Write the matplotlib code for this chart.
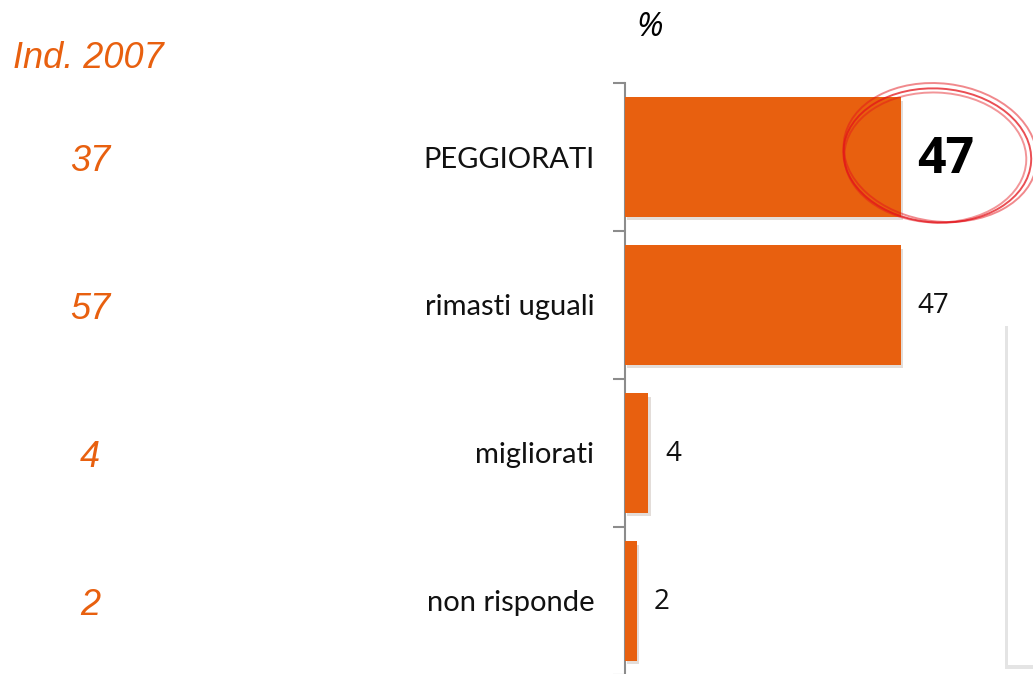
import matplotlib
matplotlib.use("Agg")
import matplotlib.pyplot as plt
import matplotlib.patheffects as pe
from matplotlib.patches import Ellipse, Rectangle
from matplotlib.transforms import blended_transform_factory, IdentityTransform

categories = ["PEGGIORATI", "rimasti uguali", "migliorati", "non risponde"]
values = [47, 47, 4, 2]
prev_label = "Ind. 2007"
prev_values = [37, 57, 4, 2]

orange = "#E8600F"
W, H = 1033, 674

fig = plt.figure(figsize=(W / 100, H / 100), dpi=100)
fig.patch.set_facecolor("white")

# axes placed by pixel: spine at x=625, top tick at y=83, bottom ~675
ax = fig.add_axes([625 / W, (H - 675) / H, (W - 625) / W, 592 / H])
ax.set_xlim(0, 69.5)
ax.set_ylim(3.5, -0.5)

ypos = list(range(len(categories)))
bars = ax.barh(ypos, values, height=0.81, color=orange, zorder=3)
for b in bars:
    b.set_path_effects([pe.SimplePatchShadow(offset=(1.5, -2.5), alpha=0.15), pe.Normal()])

for s in ["top", "right", "bottom"]:
    ax.spines[s].set_visible(False)
ax.spines["left"].set_color("#8c8c8c")
ax.spines["left"].set_linewidth(1.5)
ax.set_xticks([])
ax.set_yticks(ypos)
ax.set_yticklabels(categories, fontsize=21, fontfamily="Lato", color="#111111")
ax.tick_params(axis="y", which="major", length=0, pad=22)
ax.set_yticks([y - 0.5 for y in ypos] + [len(ypos) - 0.5], minor=True)
ax.tick_params(axis="y", which="minor", length=9, width=1.5, color="#8c8c8c")

# value labels
for i, v in enumerate(values):
    if i == 0:
        ax.annotate(str(v), (v, i), xytext=(12, -2), textcoords="offset points",
                    ha="left", va="center", fontsize=36, fontweight="bold",
                    fontfamily="Open Sans", color="black", annotation_clip=False)
    else:
        ax.annotate(str(v), (v, i), xytext=(12, -1), textcoords="offset points",
                    ha="left", va="center", fontsize=20, fontfamily="Open Sans",
                    color="#111111", annotation_clip=False)

# hand drawn red circle around the first label (display pixels)
cx, cy = ax.transData.transform((values[0] + 6.2, -0.01))
for dx, dy, dw, dh, ang, a in [(0, 0, 0, 0, -4, 0.75), (3, 3, 6, 4, -7, 0.5),
                                (-2, -2, -6, -4, -2, 0.45)]:
    fig.patches.append(Ellipse((cx + dx, cy + dy), 188 + dw, 134 + dh, angle=ang,
                               fill=False, edgecolor="#E3141B", lw=1.4, alpha=a,
                               transform=IdentityTransform(), zorder=4))

# previous year column
tr = blended_transform_factory(fig.transFigure, ax.transData)
for i, v in enumerate(prev_values):
    ax.text(90 / W, i + 0.03, str(v), transform=tr, ha="center", va="center",
            fontsize=26, style="italic", fontfamily="Liberation Sans", color=orange)
fig.text(13 / W, 1 - 58 / H, prev_label, ha="left", va="center", fontsize=26,
         style="italic", fontfamily="Liberation Sans", color=orange)
fig.text(650 / W, 1 - 28 / H, "%", ha="center", va="center", fontsize=24,
         style="italic", fontfamily="Open Sans", color="black")

# partial white panel at right edge
panel = Rectangle((1008 / W, 1 - 665 / H), 40 / W, 343 / H, transform=fig.transFigure,
                  facecolor="white", edgecolor="none", zorder=5)
panel.set_path_effects([pe.SimplePatchShadow(offset=(-2, -3), alpha=0.15), pe.Normal()])
fig.patches.append(panel)

fig.savefig("out.png", dpi=100)
